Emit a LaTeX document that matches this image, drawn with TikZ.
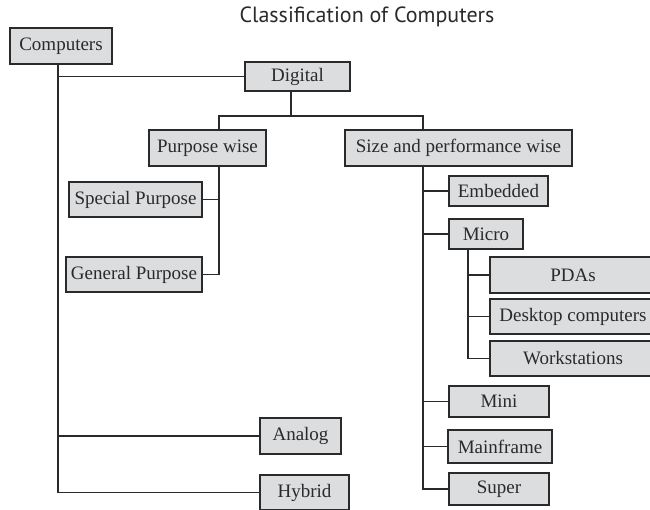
\documentclass[tikz,border=0pt]{standalone}
\usepackage{fontspec}
\setmainfont{Liberation Serif}
\newfontfamily\titlefont{PT Sans}
\definecolor{boxfill}{HTML}{DCDDDF}
\definecolor{ink}{HTML}{2A2A2A}
\begin{document}
\begin{tikzpicture}[x=1pt,y=-1pt,
  box/.style={draw=ink, fill=boxfill, line width=1.4pt, inner sep=0pt, text=ink,
    font=\fontsize{19}{22}\selectfont},
  conn/.style={draw=ink, line width=1.4pt}]
\useasboundingbox[fill=white] (0,0) rectangle (650,510);
\node[font=\titlefont\fontsize{22}{26}\selectfont, text=ink] (title) at (367,17) {Classification of Computers};

\node[box, minimum width=102pt, minimum height=36pt] (comp) at (61,46) {Computers};
\node[box, minimum width=105pt, minimum height=29pt] (dig) at (297.5,76.5) {Digital};
\node[box, minimum width=117pt, minimum height=36pt] (pw) at (207.5,148) {Purpose wise};
\node[box, minimum width=227pt, minimum height=36pt] (sz) at (458.5,148) {Size and performance wise};
\node[box, minimum width=133pt, minimum height=35pt] (sp) at (135.5,199.5) {Special Purpose};
\node[box, minimum width=136pt, minimum height=35pt] (gp) at (134,274.5) {General Purpose};
\node[box, minimum width=99pt, minimum height=30pt] (emb) at (498.5,191) {Embedded};
\node[box, minimum width=74pt, minimum height=30pt] (mic) at (486,234) {Micro};
\node[box, minimum width=166pt, minimum height=36pt] (pda) at (573,275) {PDAs};
\node[box, minimum width=166pt, minimum height=35pt] (dsk) at (573,316.5) {Desktop computers};
\node[box, minimum width=166pt, minimum height=35pt] (wks) at (573,358.5) {Workstations};
\node[box, minimum width=100pt, minimum height=31pt] (mini) at (499,401.5) {Mini};
\node[box, minimum width=104pt, minimum height=33pt] (mf) at (500,446.5) {Mainframe};
\node[box, minimum width=100pt, minimum height=32pt] (sup) at (499,489) {Super};
\node[box, minimum width=81pt, minimum height=36pt] (ana) at (300.5,436) {Analog};
\node[box, minimum width=89pt, minimum height=35pt] (hyb) at (304.5,492.5) {Hybrid};

\coordinate (t) at (58,0);
\coordinate (d) at (291,116);
\coordinate (p) at (219,0);
\coordinate (s) at (423,0);
\coordinate (m) at (468,0);

\draw[conn] (comp.south -| t) |- (hyb.west);
\draw[conn] (t |- dig.west) -- (dig.west);
\draw[conn] (t |- ana.west) -- (ana.west);

\draw[conn] (dig.south -| d) -- (d);
\draw[conn] (pw.north -| p) -- (p |- d) -- (s |- d) -- (sz.north -| s);

\draw[conn] (pw.south -| p) |- (gp.east);
\draw[conn] (sp.east) -- (p |- sp.east);

\draw[conn] (sz.south -| s) |- (sup.west);
\draw[conn] (s |- emb.west) -- (emb.west);
\draw[conn] (s |- mic.west) -- (mic.west);
\draw[conn] (s |- mini.west) -- (mini.west);
\draw[conn] (s |- mf.west) -- (mf.west);

\draw[conn] (mic.south -| m) |- (wks.west);
\draw[conn] (m |- pda.west) -- (pda.west);
\draw[conn] (m |- dsk.west) -- (dsk.west);
\end{tikzpicture}
\end{document}
